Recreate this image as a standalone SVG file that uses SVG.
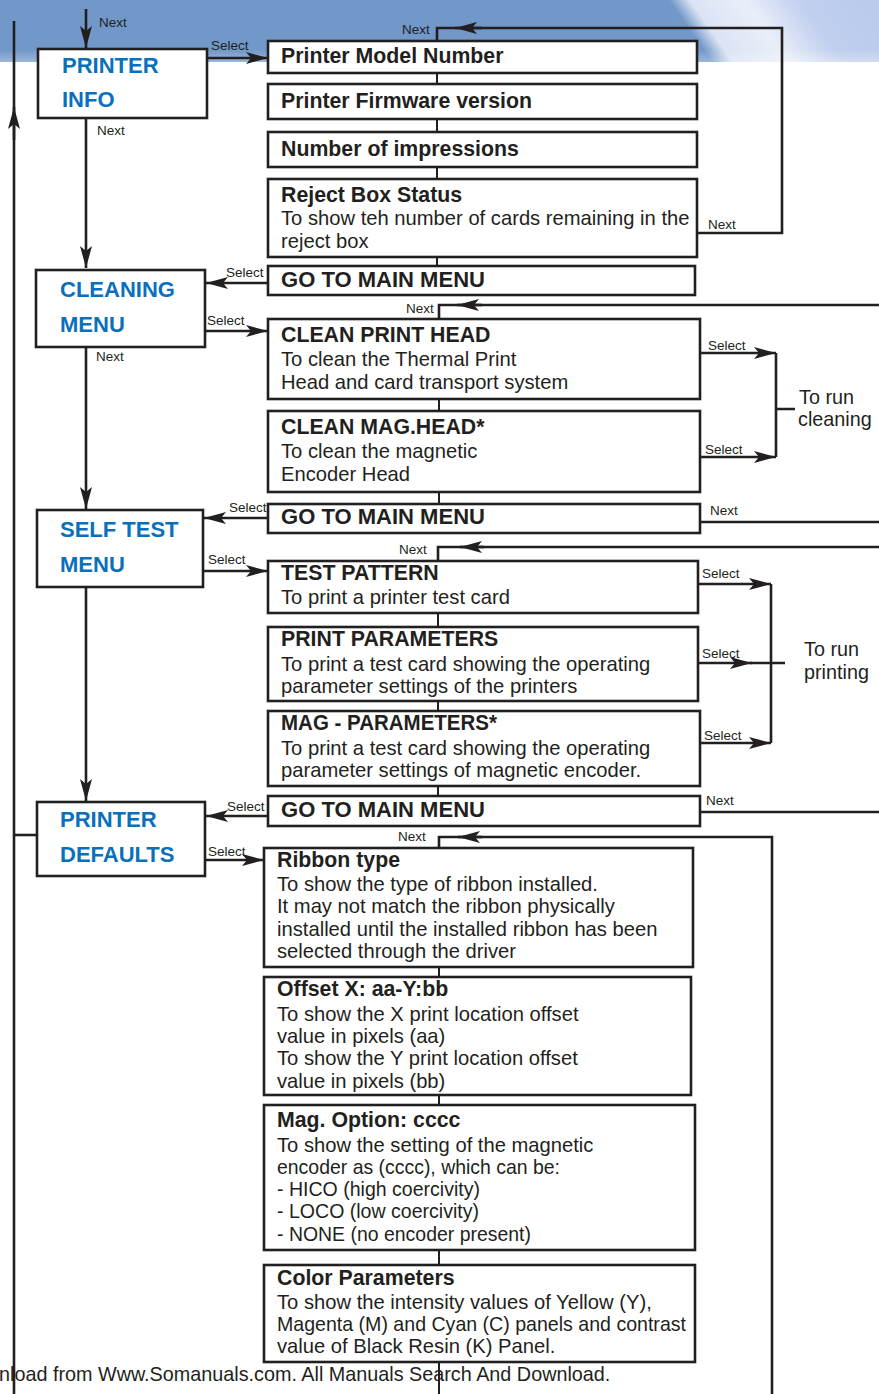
<svg xmlns="http://www.w3.org/2000/svg" width="879" height="1394" viewBox="0 0 879 1394">
<defs>
<linearGradient id="hl" gradientUnits="userSpaceOnUse" x1="690" y1="40" x2="876" y2="-89">
<stop offset="0" stop-color="#7198c9"/>
<stop offset="0.025" stop-color="#7399ca"/>
<stop offset="0.1" stop-color="#dbe3f4"/>
<stop offset="0.3" stop-color="#e9eef9"/>
<stop offset="0.5" stop-color="#c0cfee"/>
<stop offset="1" stop-color="#b5c6ea"/>
</linearGradient>
<linearGradient id="fade" x1="0" y1="0" x2="0" y2="1">
<stop offset="0" stop-color="#ffffff" stop-opacity="0"/>
<stop offset="1" stop-color="#ffffff" stop-opacity="0.3"/>
</linearGradient>
<marker id="ah" markerUnits="userSpaceOnUse" markerWidth="24" markerHeight="14" refX="22" refY="6" orient="auto">
<path d="M0,0 L22,6 L0,12 L5,6 z" fill="#231f20"/>
</marker>
<style>
.box{fill:#fff;stroke:#231f20;stroke-width:2.6}
.ln{fill:none;stroke:#231f20;stroke-width:2.6}
.thin{fill:none;stroke:#231f20;stroke-width:2}
.t{font-family:"Liberation Sans",Arial,sans-serif;font-size:21.3px;font-weight:bold;fill:#231f20}
.b{font-family:"Liberation Sans",Arial,sans-serif;font-size:20.2px;fill:#231f20}
.m{font-family:"Liberation Sans",Arial,sans-serif;font-size:22px;font-weight:bold;fill:#0a70bb}
.l{font-family:"Liberation Sans",Arial,sans-serif;font-size:13.5px;fill:#231f20}
.r{font-family:"Liberation Sans",Arial,sans-serif;font-size:19.8px;fill:#231f20}
</style>
</defs>
<rect width="879" height="1394" fill="#ffffff"/>
<g id="banner">
<rect x="0" y="0" width="879" height="62" fill="url(#hl)"/>
<rect x="0" y="50" width="879" height="12" fill="url(#fade)"/>
</g>
<g id="connectors">
<path class="ln" d="M14,1394 V21"/>
<path class="ln" d="M14,140 V107" marker-end="url(#ah)"/>
<path class="ln" d="M14,835 H37"/>
<path class="ln" d="M86,9 V48" marker-end="url(#ah)"/>
<path class="ln" d="M207,58 H268" marker-end="url(#ah)"/>
<path class="ln" d="M86,118 V268" marker-end="url(#ah)"/>
<path class="ln" d="M697,233 H782 V28 H437 V41"/>
<path class="ln" d="M482,28 H455" marker-end="url(#ah)"/>
<path class="thin" d="M437,73 V84 M437,119 V132 M437,167 V179 M437,257 V266"/>
<path class="ln" d="M268,283 H206" marker-end="url(#ah)"/>
<path class="ln" d="M205,331 H268" marker-end="url(#ah)"/>
<path class="ln" d="M86,347 V509" marker-end="url(#ah)"/>
<path class="ln" d="M879,305 H439 V319"/>
<path class="ln" d="M482,305 H457" marker-end="url(#ah)"/>
<path class="thin" d="M439,399 V411 M439,492 V504"/>
<path class="ln" d="M700,353 H776" marker-end="url(#ah)"/>
<path class="ln" d="M700,457 H776" marker-end="url(#ah)"/>
<path class="ln" d="M776,353 V457 M776,409 H795"/>
<path class="ln" d="M268,518 H204" marker-end="url(#ah)"/>
<path class="ln" d="M700,522 H879"/>
<path class="ln" d="M203,571 H268" marker-end="url(#ah)"/>
<path class="ln" d="M86,587 V801" marker-end="url(#ah)"/>
<path class="ln" d="M879,547 H438 V561"/>
<path class="ln" d="M484,547 H460" marker-end="url(#ah)"/>
<path class="thin" d="M438,613 V627 M438,701 V711 M438,786 V796"/>
<path class="ln" d="M698,584 H771" marker-end="url(#ah)"/>
<path class="ln" d="M698,663 H752" marker-end="url(#ah)"/>
<path class="ln" d="M700,743 H771" marker-end="url(#ah)"/>
<path class="ln" d="M771,584 V743 M750,663 H785"/>
<path class="ln" d="M268,816 H206" marker-end="url(#ah)"/>
<path class="ln" d="M700,812 H879"/>
<path class="ln" d="M205,860 H264" marker-end="url(#ah)"/>
<path class="ln" d="M772,1394 V837 H439 V848"/>
<path class="ln" d="M482,837 H458" marker-end="url(#ah)"/>
<path class="thin" d="M439,967 V977 M439,1095 V1105 M439,1250 V1265 M439,1362 V1394"/>
<text class="l" x="99" y="27">Next</text>
<text class="l" x="211" y="50">Select</text>
<text class="l" x="97" y="135">Next</text>
<text class="l" x="402" y="34">Next</text>
<text class="l" x="708" y="229">Next</text>
<text class="l" x="226" y="277">Select</text>
<text class="l" x="406" y="313">Next</text>
<text class="l" x="207" y="325">Select</text>
<text class="l" x="96" y="361">Next</text>
<text class="l" x="708" y="350">Select</text>
<text class="l" x="705" y="454">Select</text>
<text class="l" x="229" y="512">Select</text>
<text class="l" x="710" y="515">Next</text>
<text class="l" x="399" y="554">Next</text>
<text class="l" x="208" y="564">Select</text>
<text class="l" x="702" y="578">Select</text>
<text class="l" x="702" y="658">Select</text>
<text class="l" x="704" y="740">Select</text>
<text class="l" x="227" y="811">Select</text>
<text class="l" x="706" y="805">Next</text>
<text class="l" x="208" y="856">Select</text>
<text class="l" x="398" y="841">Next</text>
<text class="r" x="799" y="404">To run</text>
<text class="r" x="798" y="426">cleaning</text>
<text class="r" x="804" y="656">To run</text>
<text class="r" x="804" y="679">printing</text>
</g>
<g id="printer-info">
<rect class="box" x="38" y="49" width="169" height="69"/>
<text class="m" x="62" y="73">PRINTER</text>
<text class="m" x="62" y="107">INFO</text>
</g>
<g id="printer-model">
<rect class="box" x="268" y="41" width="429" height="32"/>
<text class="t" x="281" y="63">Printer Model Number</text>
</g>
<g id="firmware">
<rect class="box" x="268" y="84" width="429" height="35"/>
<text class="t" x="281" y="108">Printer Firmware version</text>
</g>
<g id="impressions">
<rect class="box" x="268" y="132" width="429" height="35"/>
<text class="t" x="281" y="156">Number of impressions</text>
</g>
<g id="reject-box">
<rect class="box" x="268" y="179" width="429" height="78"/>
<text class="t" x="281" y="202">Reject Box Status</text>
<text class="b" x="281" y="225">To show teh number of cards remaining in the</text>
<text class="b" x="281" y="248">reject box</text>
</g>
<g id="main-menu-1">
<rect class="box" x="268" y="266" width="427" height="29"/>
<text class="t" x="281" y="287" textLength="204" lengthAdjust="spacingAndGlyphs">GO TO MAIN MENU</text>
</g>
<g id="cleaning-menu">
<rect class="box" x="36" y="270" width="169" height="77"/>
<text class="m" x="60" y="297">CLEANING</text>
<text class="m" x="60" y="332">MENU</text>
</g>
<g id="clean-print-head">
<rect class="box" x="268" y="319" width="432" height="80"/>
<text class="t" x="281" y="342">CLEAN PRINT HEAD</text>
<text class="b" x="281" y="366">To clean the Thermal Print</text>
<text class="b" x="281" y="389">Head and card transport system</text>
</g>
<g id="clean-mag-head">
<rect class="box" x="268" y="411" width="432" height="81"/>
<text class="t" x="281" y="434">CLEAN MAG.HEAD*</text>
<text class="b" x="281" y="458">To clean the magnetic</text>
<text class="b" x="281" y="481">Encoder Head</text>
</g>
<g id="main-menu-2">
<rect class="box" x="268" y="504" width="432" height="29"/>
<text class="t" x="281" y="524" textLength="204" lengthAdjust="spacingAndGlyphs">GO TO MAIN MENU</text>
</g>
<g id="self-test-menu">
<rect class="box" x="37" y="510" width="166" height="77"/>
<text class="m" x="60" y="537">SELF TEST</text>
<text class="m" x="60" y="572">MENU</text>
</g>
<g id="test-pattern">
<rect class="box" x="268" y="561" width="430" height="52"/>
<text class="t" x="281" y="580">TEST PATTERN</text>
<text class="b" x="281" y="604">To print a printer test card</text>
</g>
<g id="print-parameters">
<rect class="box" x="268" y="627" width="430" height="74"/>
<text class="t" x="281" y="646">PRINT PARAMETERS</text>
<text class="b" x="281" y="671">To print a test card showing the operating</text>
<text class="b" x="281" y="693">parameter settings of the printers</text>
</g>
<g id="mag-parameters">
<rect class="box" x="268" y="711" width="432" height="75"/>
<text class="t" x="281" y="730" textLength="216" lengthAdjust="spacingAndGlyphs">MAG - PARAMETERS*</text>
<text class="b" x="281" y="755">To print a test card showing the operating</text>
<text class="b" x="281" y="777">parameter settings of magnetic encoder.</text>
</g>
<g id="main-menu-3">
<rect class="box" x="268" y="796" width="432" height="30"/>
<text class="t" x="281" y="817" textLength="204" lengthAdjust="spacingAndGlyphs">GO TO MAIN MENU</text>
</g>
<g id="printer-defaults">
<rect class="box" x="37" y="802" width="168" height="74"/>
<text class="m" x="60" y="827">PRINTER</text>
<text class="m" x="60" y="862">DEFAULTS</text>
</g>
<g id="ribbon-type">
<rect class="box" x="264" y="848" width="429" height="119"/>
<text class="t" x="277" y="867">Ribbon type</text>
<text class="b" x="277" y="891">To show the type of ribbon installed.</text>
<text class="b" x="277" y="913">It may not match the ribbon physically</text>
<text class="b" x="277" y="936">installed until the installed ribbon has been</text>
<text class="b" x="277" y="958">selected through the driver</text>
</g>
<g id="offset">
<rect class="box" x="264" y="977" width="427" height="118"/>
<text class="t" x="277" y="996">Offset X: aa-Y:bb</text>
<text class="b" x="277" y="1021">To show the X print location offset</text>
<text class="b" x="277" y="1043">value in pixels (aa)</text>
<text class="b" x="277" y="1065">To show the Y print location offset</text>
<text class="b" x="277" y="1088">value in pixels (bb)</text>
</g>
<g id="mag-option">
<rect class="box" x="264" y="1105" width="431" height="145"/>
<text class="t" x="277" y="1127">Mag. Option: cccc</text>
<text class="b" x="277" y="1152">To show the setting of the magnetic</text>
<text class="b" x="277" y="1174" textLength="283" lengthAdjust="spacingAndGlyphs">encoder as (cccc), which can be:</text>
<text class="b" x="277" y="1196" textLength="203" lengthAdjust="spacingAndGlyphs">- HICO (high coercivity)</text>
<text class="b" x="277" y="1218" textLength="202" lengthAdjust="spacingAndGlyphs">- LOCO (low coercivity)</text>
<text class="b" x="277" y="1241" textLength="254" lengthAdjust="spacingAndGlyphs">- NONE (no encoder present)</text>
</g>
<g id="color-parameters">
<rect class="box" x="264" y="1265" width="431" height="97"/>
<text class="t" x="277" y="1285">Color Parameters</text>
<text class="b" x="277" y="1309">To show the intensity values of Yellow (Y),</text>
<text class="b" x="277" y="1331" textLength="409" lengthAdjust="spacingAndGlyphs">Magenta (M) and Cyan (C) panels and contrast</text>
<text class="b" x="277" y="1353">value of Black Resin (K) Panel.</text>
</g>
<text class="r" x="-1" y="1381">nload from Www.Somanuals.com. All Manuals Search And Download.</text>
</svg>
